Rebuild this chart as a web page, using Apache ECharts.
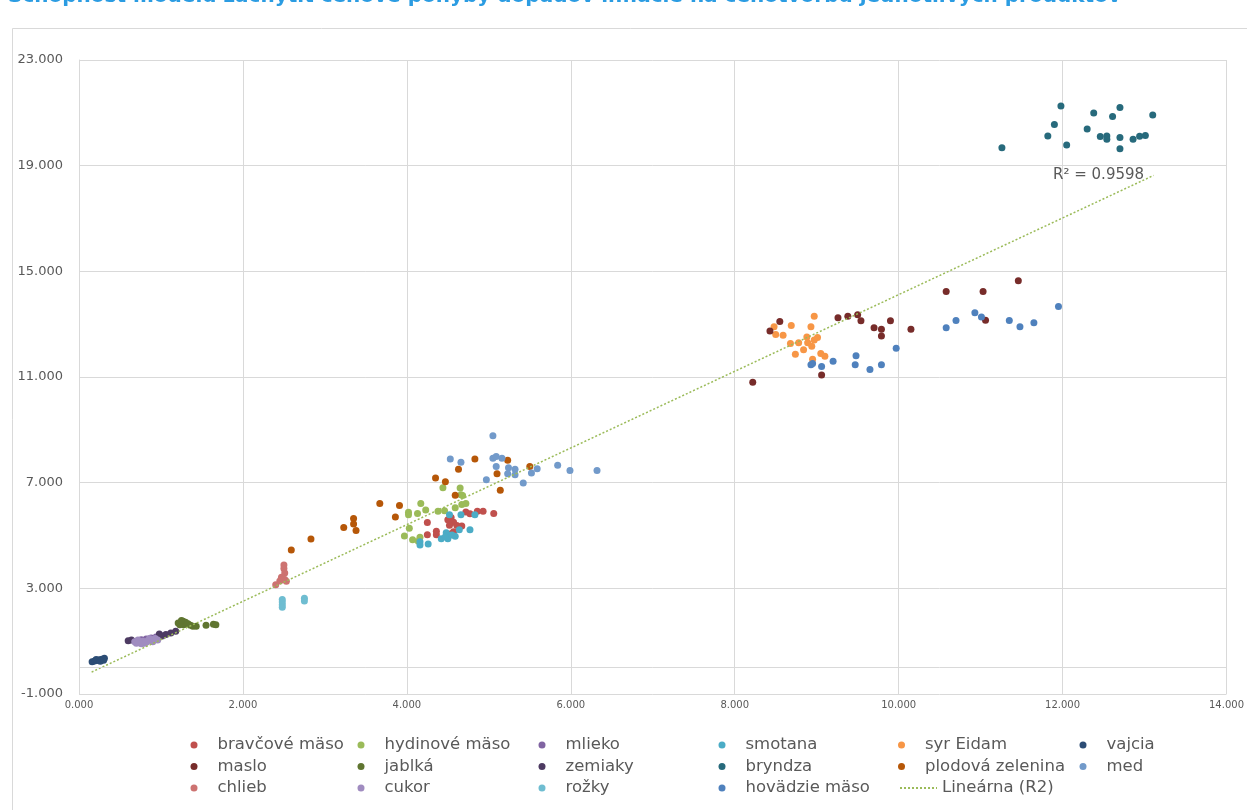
<!DOCTYPE html>
<html><head><meta charset="utf-8">
<script src="https://cdn.jsdelivr.net/npm/echarts@6/dist/echarts.min.js"></script>
<style>html,body{margin:0;padding:0;background:#fff}#c{width:1247px;height:810px}</style>
</head><body><div id="c"></div>
<script>
// ---------- DATA ----------
const titleText = 'Schopnosť modelu zachytiť cenové pohyby dopadov inflácie na cenotvorbu jednotlivých produktov';
const seriesNames = ['bravčové mäso','hydinové mäso','mlieko','smotana','syr Eidam','vajcia','maslo','jablká','zemiaky','bryndza','plodová zelenina','med','chlieb','cukor','rožky','hovädzie mäso'];
const trendName = 'Lineárna (R2)';
const r2Label = 'R² = 0.9598';

const bravcoveMaso = [[4.25,5.49],[4.25,5.03],[4.36,5.16],[4.36,5.03],[4.54,5.68],[4.50,5.60],[4.57,5.50],[4.52,5.39],[4.61,5.38],[4.67,5.36],[4.72,5.89],[4.77,5.82],[4.86,5.92],[4.93,5.92],[5.06,5.83],[4.54,5.07],[4.57,5.14]];
const hydinoveMaso = [[4.44,6.81],[4.65,6.80],[4.66,6.54],[4.68,6.51],[4.17,6.21],[4.67,6.17],[4.72,6.21],[4.59,6.05],[4.23,5.97],[4.02,5.88],[4.02,5.79],[4.13,5.83],[4.38,5.92],[4.46,5.94],[4.03,5.27],[3.97,4.98],[4.07,4.84],[4.16,4.93],[4.14,4.78]];
const mlieko = [[0.70,1.00],[0.76,1.05],[0.82,1.08],[0.88,1.12],[0.94,1.16],[0.80,0.98],[0.90,1.04],[1.02,1.20],[0.74,0.95]];
const smotana = [[4.52,5.79],[4.66,5.79],[4.83,5.79],[4.64,5.22],[4.77,5.22],[4.48,5.10],[4.51,5.00],[4.59,4.97],[4.42,4.88],[4.50,4.88],[4.16,4.76],[4.16,4.64],[4.26,4.68],[4.55,5.02],[4.47,4.95]];
const syrEidam = [[8.48,12.90],[8.69,12.95],[8.97,13.30],[8.93,12.90],[8.50,12.61],[8.59,12.58],[8.88,12.51],[9.01,12.50],[8.97,12.40],[8.68,12.27],[8.78,12.30],[8.89,12.30],[8.94,12.16],[8.84,12.03],[8.74,11.86],[9.05,11.89],[9.10,11.79],[8.95,11.67]];
const vajcia = [[0.16,0.22],[0.19,0.25],[0.22,0.27],[0.25,0.30],[0.28,0.32],[0.31,0.35],[0.21,0.31],[0.26,0.24],[0.30,0.28]];
const maslo = [[8.22,10.80],[8.43,12.74],[8.55,13.10],[9.26,13.24],[9.38,13.30],[9.50,13.36],[9.54,13.13],[9.70,12.86],[9.79,12.81],[9.79,12.55],[9.90,13.13],[10.15,12.81],[9.06,11.08],[10.58,14.24],[11.03,14.24],[11.46,14.64],[11.06,13.15]];
const jablka = [[1.21,1.69],[1.27,1.75],[1.28,1.62],[1.33,1.66],[1.39,1.56],[1.43,1.56],[1.23,1.62],[1.30,1.72],[1.36,1.60],[1.55,1.60],[1.64,1.64],[1.67,1.62],[1.25,1.78]];
const zemiaky = [[0.60,1.02],[0.64,1.04],[0.98,1.27],[1.00,1.20],[1.12,1.31],[1.18,1.38],[0.86,1.07],[1.06,1.25]];
const bryndza = [[11.26,19.68],[11.98,21.26],[11.90,20.56],[11.82,20.12],[12.05,19.78],[12.38,20.99],[12.30,20.39],[12.70,21.20],[12.61,20.86],[13.10,20.92],[12.46,20.10],[12.54,20.12],[12.54,20.00],[12.70,20.07],[12.70,19.64],[12.86,20.00],[12.94,20.11],[13.01,20.14]];
const plodovaZelenina = [[2.59,4.45],[2.83,4.87],[3.23,5.30],[3.35,5.64],[3.35,5.44],[3.38,5.19],[3.67,6.21],[3.91,6.14],[3.86,5.70],[4.35,7.18],[4.47,7.03],[4.63,7.51],[4.83,7.90],[5.23,7.85],[5.10,7.34],[5.50,7.61],[5.14,6.71],[4.59,6.52]];
const med = [[5.05,8.78],[4.53,7.90],[4.66,7.77],[5.05,7.92],[5.09,7.99],[5.16,7.92],[5.09,7.61],[5.24,7.56],[5.32,7.51],[5.23,7.34],[5.32,7.30],[4.97,7.11],[5.42,6.99],[5.52,7.37],[5.59,7.53],[5.84,7.66],[5.99,7.46],[6.32,7.46]];
const chlieb = [[2.50,3.88],[2.50,3.75],[2.51,3.58],[2.47,3.42],[2.51,3.33],[2.45,3.28],[2.40,3.14],[2.53,3.27],[2.49,3.35]];
const cukor = [[0.68,0.98],[0.72,1.04],[0.78,1.00],[0.80,0.92],[0.84,1.02],[0.86,1.10],[0.90,0.98],[0.93,1.10],[0.96,1.04],[0.76,0.90],[0.70,0.92],[0.88,1.06],[0.82,0.96]];
const rozky = [[2.48,2.58],[2.48,2.48],[2.48,2.38],[2.48,2.28],[2.75,2.62],[2.75,2.52]];
const hovadzieMaso = [[8.93,11.46],[8.95,11.51],[9.06,11.40],[9.20,11.60],[9.48,11.80],[9.47,11.46],[9.65,11.28],[9.79,11.46],[9.97,12.09],[10.58,12.86],[10.70,13.14],[10.93,13.43],[11.01,13.27],[11.35,13.14],[11.48,12.90],[11.65,13.05],[11.95,13.67]];
const trendLine = [[0.154,-0.17],[13.11,18.63]];

// ---------- STYLE ----------
const seriesData = [bravcoveMaso,hydinoveMaso,mlieko,smotana,syrEidam,vajcia,maslo,jablka,zemiaky,bryndza,plodovaZelenina,med,chlieb,cukor,rozky,hovadzieMaso];
const seriesColors = ['#C0504D','#9BBB59','#8064A2','#4BACC6','#F79646','#2C4D75','#772C2A','#5F7530','#4D3B62','#276A7C','#B65708','#729ACA','#CD7371','#A08CC0','#6FBDD1','#4F81BD'];
const legendBlocks = [
  {names:['bravčové mäso','maslo','chlieb'], left:185.5, row:0},
  {names:['hydinové mäso','jablká','cukor'], left:352.5, row:0},
  {names:['mlieko','zemiaky','rožky'], left:533.5, row:0},
  {names:['smotana','bryndza','hovädzie mäso'], left:713.5, row:0},
  {names:['syr Eidam','plodová zelenina'], left:893, row:0},
  {names:['Lineárna (R2)'], left:894, row:2, hideSymbol:true},
  {names:['vajcia','med'], left:1074.5, row:0}
];
const txt = '#595959';
const grid = '#D9D9D9';
const legendTop = 731, rowStep = 21.5;

const series = seriesNames.map((n,i)=>({
  name:n, type:'scatter', data:seriesData[i], symbol:'circle', symbolSize:7,
  itemStyle:{color:seriesColors[i], opacity:1}, emphasis:{disabled:true}
}));
series.push({
  name:trendName, type:'line', data:trendLine, symbol:'none', showSymbol:false,
  lineStyle:{color:'#9BBB59', width:1.5, type:[2,2]}, itemStyle:{color:'#9BBB59'},
  z:3, silent:true,
  markLine:{silent:true, symbol:['none','none'], label:{show:false},
    lineStyle:{color:grid, type:'solid', width:1}, data:[{yAxis:0}]},
  markPoint:{silent:true, symbol:'circle', symbolSize:1, itemStyle:{color:'rgba(0,0,0,0)'},
    data:[{coord:trendLine[1], label:{show:true, position:'left', distance:9, formatter:r2Label,
      color:txt, fontSize:15, fontFamily:'DejaVu Sans'}}]}
});

const chart = echarts.init(document.getElementById('c'), null, {renderer:'canvas'});
chart.setOption({
  animation:false,
  backgroundColor:'#fff',
  graphic:[
    {type:'rect', left:10, top:26, shape:{width:1300, height:900}, style:{fill:'none', stroke:grid, lineWidth:1}, z:-10},
    {type:'text', left:8, top:-13, style:{text:titleText, fill:'#2B9CE2', font:'bold 20px "DejaVu Sans"'}}
  ],
  grid:{left:79, right:15, top:60, bottom:116, containLabel:false},
  xAxis:{type:'value', min:0, max:14, interval:2,
    axisLine:{show:false}, axisTick:{show:false},
    axisLabel:{formatter:v=>v.toFixed(3), color:txt, fontFamily:'DejaVu Sans', fontSize:10, margin:6},
    splitLine:{show:true, lineStyle:{color:grid, width:1}}},
  yAxis:{type:'value', min:-1, max:23, interval:4,
    axisLine:{show:true, lineStyle:{color:grid, width:1}}, axisTick:{show:false},
    axisLabel:{formatter:v=>v.toFixed(3), color:txt, fontFamily:'DejaVu Sans', fontSize:13, margin:16},
    splitLine:{show:true, lineStyle:{color:grid, width:1}}},
  legend: legendBlocks.map(b=>{
    const l = {
      orient:'vertical', left:b.left, top:legendTop + b.row*rowStep, itemWidth:37, itemHeight:7, itemGap:rowStep-18,
      data:b.names, selectedMode:false,
      textStyle:{color:txt, fontFamily:'DejaVu Sans', fontSize:16.5, lineHeight:18}
    };
    if (b.hideSymbol) l.itemStyle = {opacity:0};
    return l;
  }),
  series: series
});
</script>
</body></html>
